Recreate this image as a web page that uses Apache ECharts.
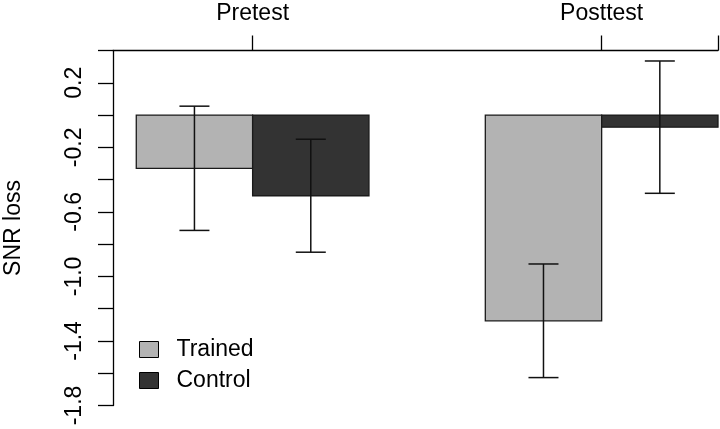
<!DOCTYPE html>
<html>
<head>
<meta charset="utf-8">
<script src="https://cdn.jsdelivr.net/npm/echarts@6/dist/echarts.min.js"></script>
<style>
html,body{margin:0;padding:0;background:#fff;}
#chart{width:720px;height:429px;}
</style>
</head>
<body>
<div id="chart"></div>
<script>
// ---- data ----
const groups = ['Pretest', 'Posttest'];
const seriesNames = ['Trained', 'Control'];
const trainedMean = [-0.33, -1.275];
const controlMean = [-0.50, -0.075];
const trainedErr = [0.385, 0.352];
const controlErr = [0.35, 0.41];
const yMin = -1.8, yMax = 0.4, yStep = 0.2;

// ---- layout helpers (R barplot, beside=TRUE, space=c(0,1)) ----
function barLeft(g, s) { return 1 + g * 3 + s; }
const groupCenters = groups.map((_, g) => barLeft(g, 1));

const FONT = 'Liberation Sans, Arial, Helvetica, sans-serif';
const colors = ['#b3b3b3', '#333333'];

function barSeries(name, means, s) {
  return {
    type: 'custom',
    name: name,
    itemStyle: { color: colors[s], borderColor: '#000', borderWidth: 1 },
    data: means.map((v, g) => [g, v]),
    renderItem: function (params, api) {
      const g = api.value(0), v = api.value(1);
      const p0 = api.coord([barLeft(g, s), 0]);
      const p1 = api.coord([barLeft(g, s) + 1, v]);
      return {
        type: 'rect',
        shape: { x: p0[0], y: Math.min(p0[1], p1[1]), width: p1[0] - p0[0], height: Math.abs(p1[1] - p0[1]) },
        style: { fill: colors[s], stroke: '#1a1a1a', lineWidth: 1.3 }
      };
    },
    z: 2
  };
}

function errSeries(means, errs, s) {
  return {
    type: 'custom',
    name: seriesNames[s] + ' error',
    data: means.map((v, g) => [g, v, errs[g]]),
    renderItem: function (params, api) {
      const g = api.value(0), v = api.value(1), e = api.value(2);
      const cx = barLeft(g, s) + 0.5;
      const top = api.coord([cx, v + e]);
      const bot = api.coord([cx, v - e]);
      const hw = 15;
      const st = { stroke: '#111', lineWidth: 1.5 };
      return {
        type: 'group',
        children: [
          { type: 'line', shape: { x1: top[0], y1: top[1], x2: bot[0], y2: bot[1] }, style: st },
          { type: 'line', shape: { x1: top[0] - hw, y1: top[1], x2: top[0] + hw, y2: top[1] }, style: st },
          { type: 'line', shape: { x1: bot[0] - hw, y1: bot[1], x2: bot[0] + hw, y2: bot[1] }, style: st }
        ]
      };
    },
    z: 3
  };
}

const chart = echarts.init(document.getElementById('chart'), null, { renderer: 'canvas' });
chart.setOption({
  backgroundColor: '#fff',
  animation: false,
  textStyle: { fontFamily: FONT },
  grid: { left: 113, right: 2, top: 50.5, bottom: 23.5, containLabel: false, outerBoundsMode: 'none' },
  xAxis: {
    type: 'value',
    position: 'top',
    min: 0.8,
    max: 6,
    splitLine: { show: false },
    axisLine: { show: true, onZero: false, lineStyle: { color: '#000', width: 1.3 } },
    axisTick: { show: true, length: 15, customValues: [groupCenters[0], groupCenters[1], 6], lineStyle: { color: '#000', width: 1.3 } },
    axisLabel: {
      customValues: groupCenters,
      formatter: function (v) {
        const i = groupCenters.indexOf(v);
        return i >= 0 ? groups[i] : '';
      },
      color: '#000', fontSize: 23, fontFamily: FONT, margin: 25
    }
  },
  yAxis: {
    type: 'value',
    min: yMin,
    max: yMax,
    interval: yStep,
    name: 'SNR loss',
    nameLocation: 'middle',
    nameRotate: 90,
    nameGap: 88,
    nameTextStyle: { color: '#000', fontSize: 23, fontFamily: FONT },
    splitLine: { show: false },
    axisLine: { show: true, onZero: false, lineStyle: { color: '#000', width: 1.3 } },
    axisTick: { show: true, length: 15, lineStyle: { color: '#000', width: 1.3 } },
    axisLabel: {
      rotate: 90,
      color: '#000', fontSize: 23, fontFamily: FONT, margin: 27,
      showMaxLabel: true, showMinLabel: true,
      formatter: function (v) {
        const k = Math.round((v - yMin) / yStep);
        if (k % 2 !== 0) return '';
        if (Math.abs(v - yMax) < 1e-9) return '';
        return v.toFixed(1);
      }
    }
  },
  legend: {
    orient: 'vertical',
    left: 134,
    top: 333,
    itemWidth: 19,
    itemHeight: 16,
    itemGap: 8,
    icon: 'rect',
    data: [
      { name: 'Trained', itemStyle: { color: colors[0], borderColor: '#000', borderWidth: 1 } },
      { name: 'Control', itemStyle: { color: colors[1], borderColor: '#000', borderWidth: 1 } }
    ],
    textStyle: { color: '#000', fontSize: 23, fontFamily: FONT, padding: [0, 0, 0, 13] },
    selectedMode: false
  },
  series: [
    barSeries('Trained', trainedMean, 0),
    barSeries('Control', controlMean, 1),
    errSeries(trainedMean, trainedErr, 0),
    errSeries(controlMean, controlErr, 1)
  ]
});
</script>
</body>
</html>
